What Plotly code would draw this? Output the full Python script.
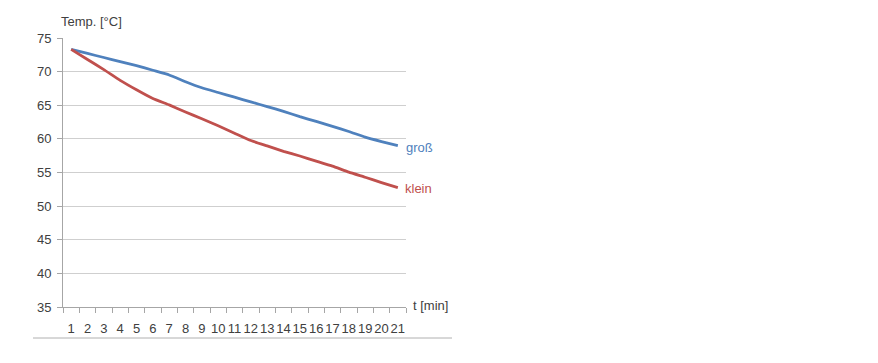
import plotly.graph_objects as go

t_labels = [str(i) for i in range(1, 22)]
gross = [73.3, 72.7, 72.1, 71.5, 70.9, 70.2, 69.5, 68.5, 67.6, 66.9, 66.2,
         65.5, 64.8, 64.1, 63.3, 62.6, 61.85, 61.1, 60.25, 59.6, 59.0]
klein = [73.3, 71.8, 70.3, 68.7, 67.3, 66.0, 65.05, 64.0, 63.0, 61.95, 60.85,
         59.75, 58.95, 58.15, 57.45, 56.7, 55.95, 55.05, 54.3, 53.5, 52.75]
y_ticks = [35, 40, 45, 50, 55, 60, 65, 70, 75]

BLUE = "#4F81BD"
RED = "#C0504D"
FONT = "Liberation Sans"

fig = go.Figure()
fig.add_trace(go.Scatter(x=t_labels, y=gross, mode="lines", name="groß",
                         line=dict(color=BLUE, width=2.8, shape="spline", smoothing=0.4)))
fig.add_trace(go.Scatter(x=t_labels, y=klein, mode="lines", name="klein",
                         line=dict(color=RED, width=2.8, shape="spline", smoothing=0.4)))

fig.update_layout(
    width=878, height=363,
    margin=dict(l=63, r=472, t=38, b=56),
    plot_bgcolor="white", paper_bgcolor="white",
    showlegend=False,
    font=dict(family=FONT, size=13, color="#595959"),
)
fig.update_xaxes(
    type="category", tickson="boundaries", ticks="outside", ticklen=5,
    tickcolor="#A6A6A6", showline=True, linecolor="#A6A6A6", linewidth=1,
    showgrid=False, tickangle=0, tickfont=dict(size=13, color="#404040"),
    range=[-0.5, 20.5], ticklabelstandoff=9,
)
fig.update_yaxes(
    range=[35, 75], tickvals=y_ticks, ticks="outside", ticklen=5,
    tickcolor="#A6A6A6", showline=True, linecolor="#A6A6A6", linewidth=1,
    showgrid=True, gridcolor="#CFCFCF", gridwidth=1.4, zeroline=False,
    tickfont=dict(size=13, color="#404040"), ticklabelstandoff=3,
)

last = len(t_labels) - 1
fig.add_annotation(x=last, y=gross[-1], xref="x", yref="y", text="groß",
                   showarrow=False, xanchor="left", xshift=6, yshift=-2,
                   font=dict(family=FONT, size=13, color=BLUE))
fig.add_annotation(x=last, y=klein[-1], xref="x", yref="y", text="klein",
                   showarrow=False, xanchor="left", xshift=5, yshift=-1,
                   font=dict(family=FONT, size=13, color=RED))
fig.add_annotation(x=0, y=1, xref="paper", yref="paper", text="Temp. [°C]",
                   showarrow=False, xanchor="left", yanchor="bottom", xshift=-4, yshift=7,
                   font=dict(family=FONT, size=13, color="#404040"))
fig.add_annotation(x=1, y=0, xref="paper", yref="paper", text="t [min]",
                   showarrow=False, xanchor="left", yanchor="middle", xshift=5, yshift=2,
                   font=dict(family=FONT, size=13, color="#404040"))

# thin separator line beneath the chart
pw = 878 - 63 - 472
ph = 363 - 38 - 56
fig.add_shape(type="line", xref="paper", yref="paper",
              x0=(33 - 63) / pw, x1=(452 - 63) / pw,
              y0=(307 - 338) / ph, y1=(307 - 338) / ph,
              line=dict(color="#B0B0B0", width=1))

fig.write_html("out.html")
